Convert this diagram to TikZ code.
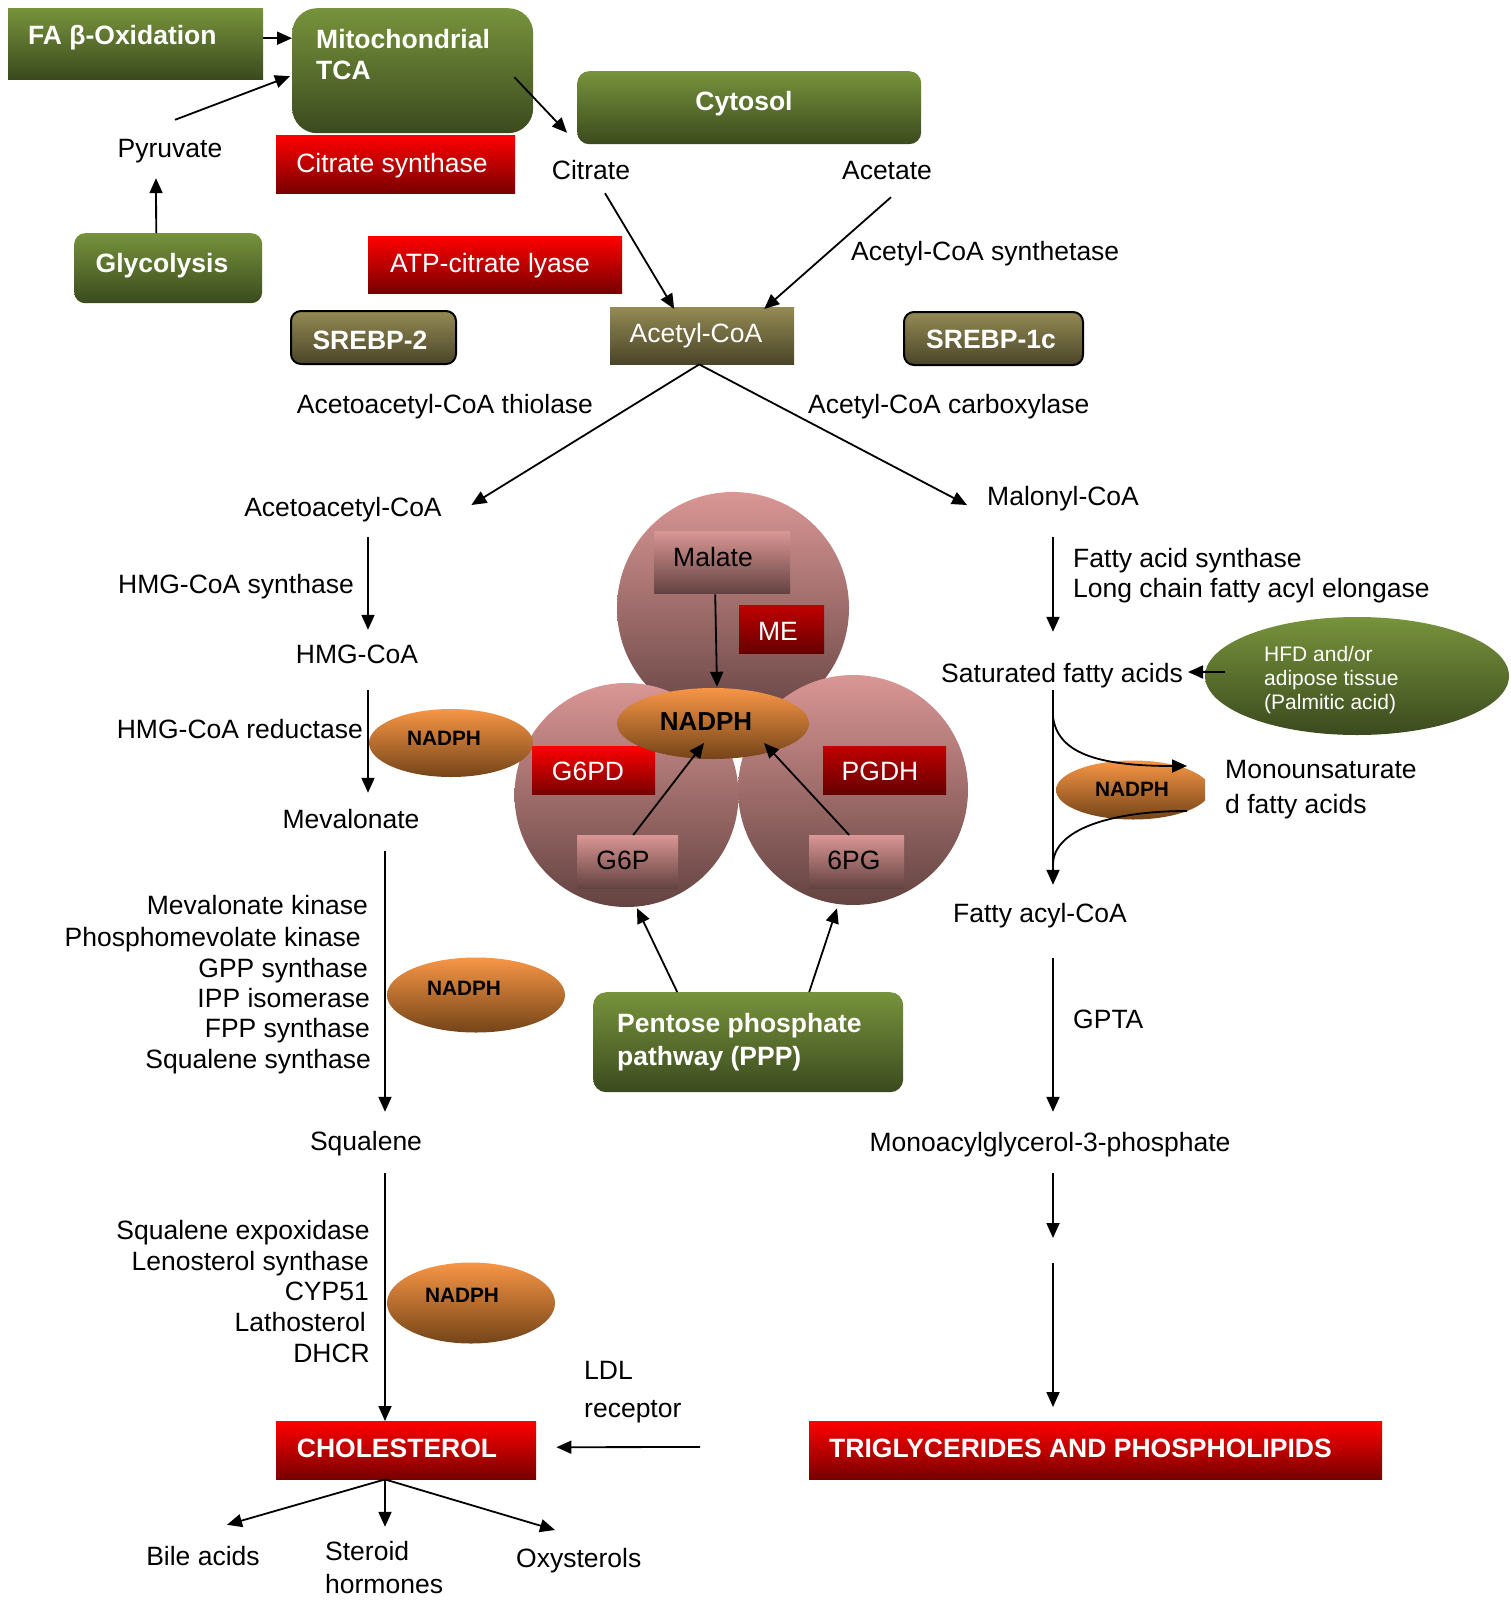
\documentclass[tikz,border=0pt]{standalone}
\usepackage{fontspec}
\setmainfont{Liberation Sans}
\usetikzlibrary{shapes.geometric,arrows.meta,calc}
\definecolor{gtop}{HTML}{77933C}
\definecolor{gbot}{HTML}{3B4A1E}
\definecolor{otop}{HTML}{948A54}
\definecolor{obot}{HTML}{4A4529}
\definecolor{rtop}{HTML}{FF0000}
\definecolor{rbot}{HTML}{780000}
\definecolor{dtop}{HTML}{C00000}
\definecolor{dbot}{HTML}{660000}
\definecolor{ptop}{HTML}{D99694}
\definecolor{pbot}{HTML}{634341}
\definecolor{ntop}{HTML}{F79646}
\definecolor{nbot}{HTML}{744418}
\tikzset{
 txt/.style={inner sep=0pt, text height=21pt, text depth=0pt, font=\fontsize{26.5}{31}\selectfont},
 wtxt/.style={txt, text=white},
 btxt/.style={txt, text=white, font=\fontsize{26.5}{31}\selectfont\bfseries},
 ntxt/.style={inner sep=0pt, font=\fontsize{20.8}{24}\selectfont\bfseries},
 stxt/.style={inner sep=0pt, text height=16pt, text depth=0pt, text=white, font=\fontsize{21}{24}\selectfont},
 box/.style={rectangle, draw=none, inner sep=0pt, anchor=north west},
 greenbox/.style={box, top color=gtop, bottom color=gbot},
 olivebox/.style={box, top color=otop, bottom color=obot},
 redbox/.style={box, top color=rtop, bottom color=rbot},
 darkbox/.style={box, top color=dtop, bottom color=dbot},
 pinkbox/.style={box, top color=ptop, bottom color=pbot},
 srebpbox/.style={olivebox, draw=black, line width=2pt, rounded corners=10pt},
 ball/.style={circle, inner sep=0pt, draw=none, top color=ptop, bottom color=pbot},
 nadph/.style={ellipse, inner sep=0pt, draw=none, top color=ntop, bottom color=nbot},
 arr/.style={line width=1.8pt, -{Triangle[length=15pt,width=13pt]}},
 ln/.style={line width=1.8pt},
}
\begin{document}
\begin{tikzpicture}[x=1pt,y=-1pt]
\fill[white] (0,0) rectangle (1510,1600);
\useasboundingbox (0,0) rectangle (1510,1600);
\coordinate (xL1) at (368,0);
\coordinate (xL2) at (385,0);
\coordinate (xR) at (1053,0);

% ---------- boxes ----------
\node[greenbox, minimum width=255pt, minimum height=71pt] (fa) at (8,8) {};
\node[greenbox, rounded corners=25pt, minimum width=241pt, minimum height=125pt] (mito) at (292,8) {};
\node[greenbox, rounded corners=11pt, minimum width=188pt, minimum height=70pt] (glyco) at (74,233) {};
\node[redbox, minimum width=239pt, minimum height=58pt] (cs) at (276,135) {};
\node[greenbox, rounded corners=12pt, minimum width=344pt, minimum height=73pt] (cyto) at (577,71) {};
\node[redbox, minimum width=254pt, minimum height=57pt] (acl) at (368,236) {};
\node[olivebox, minimum width=184pt, minimum height=57pt] (acetyl) at (610,307) {};
\node[srebpbox, minimum width=165pt, minimum height=53pt] (sr2) at (290,310) {};
\node[srebpbox, minimum width=179pt, minimum height=53pt] (sr1) at (903,311) {};
\node[redbox, minimum width=260pt, minimum height=58pt] (chol) at (276,1421) {};
\node[redbox, minimum width=573pt, minimum height=58pt] (trig) at (809,1421) {};
\node[greenbox, rounded corners=13pt, minimum width=310pt, minimum height=100pt] (ppp) at (593,992) {};

% ---------- circles ----------
\node[ball, minimum size=232pt] (ctop) at (733,608) {};
\node[ball, minimum size=224pt] (cleft) at (626.5,795) {};
\node[ball, minimum size=230pt] (cright) at (853,790) {};
\node[pinkbox, minimum width=136pt, minimum height=62pt] (malate) at (654,531) {};
\node[darkbox, minimum width=85pt, minimum height=48pt] (me) at (739,605) {};
\node[redbox, minimum width=123pt, minimum height=48pt] (g6pd) at (532,746) {};
\node[darkbox, minimum width=123pt, minimum height=48pt] (pgdh) at (823,746) {};
\node[pinkbox, minimum width=101pt, minimum height=53pt] (g6p) at (577,835) {};
\node[pinkbox, minimum width=95pt, minimum height=53pt] (pgsix) at (809,835) {};
\node[nadph, minimum width=192pt, minimum height=71pt] (nbig) at (713,723.5) {};

% ---------- NADPH and HFD ellipses ----------
\node[nadph, minimum width=164pt, minimum height=68pt] (n1) at (451,743) {};
\node[nadph, minimum width=178pt, minimum height=75pt] (n2) at (476,995) {};
\node[nadph, minimum width=168pt, minimum height=81pt] (n3) at (471,1303) {};
\begin{scope}
\clip (1000,700) rectangle (1205,900);
\node[nadph, minimum width=154pt, minimum height=59pt] (n4) at (1133,790) {};
\end{scope}
\node[ellipse, inner sep=0pt, draw=none, top color=gtop, bottom color=gbot, minimum width=304pt, minimum height=118pt] (hfd) at (1357,676) {};

% ---------- texts ----------
\node[btxt, anchor=west] (fat) at (28,34) {FA β-Oxidation};
\node[btxt, anchor=west] (mitot1) at (316,38) {Mitochondrial};
\node[btxt, anchor=west] (mitot2) at (316,69) {TCA};
\node[txt] (pyr) at (170,147) {Pyruvate};
\node[btxt] (glycot) at (162,262) {Glycolysis};
\node[wtxt] (cst) at (392,162) {Citrate synthase};
\node[btxt] (cytot) at (744,100) {Cytosol};
\node[txt] (citrate) at (591,169) {Citrate};
\node[txt] (acetate) at (887,169) {Acetate};
\node[wtxt] (aclt) at (490,262) {ATP-citrate lyase};
\node[txt, anchor=west] (acs) at (851,250) {Acetyl-CoA synthetase};
\node[wtxt] (acetylt) at (696,332) {Acetyl-CoA};
\node[btxt] (sr2t) at (370,339) {SREBP-2};
\node[btxt] (sr1t) at (991,338) {SREBP-1c};
\node[txt] (thiol) at (445,403) {Acetoacetyl-CoA thiolase};
\node[txt, anchor=west] (acc) at (808,403) {Acetyl-CoA carboxylase};
\node[txt] (acac) at (343,506) {Acetoacetyl-CoA};
\node[txt, anchor=west] (malonyl) at (987,495) {Malonyl-CoA};
\node[txt, anchor=east] (hmgs) at (354,583) {HMG-CoA synthase};
\node[txt] (hmg) at (357,653) {HMG-CoA};
\node[txt, anchor=east] (hmgr) at (363,728) {HMG-CoA reductase};
\node[txt] (meval) at (351,818) {Mevalonate};
\node[txt, anchor=east] (la1) at (368,904) {Mevalonate kinase};
\node[txt, anchor=east] (la2) at (361,936) {Phosphomevolate kinase};
\node[txt, anchor=east] (la3) at (368,967) {GPP synthase};
\node[txt, anchor=east] (la4) at (370,997) {IPP isomerase};
\node[txt, anchor=east] (la5) at (370,1027) {FPP synthase};
\node[txt, anchor=east] (la6) at (371,1058) {Squalene synthase};
\node[txt] (squal) at (366,1140) {Squalene};
\node[txt, anchor=east] (lb1) at (370,1229) {Squalene expoxidase};
\node[txt, anchor=east] (lb2) at (369,1260) {Lenosterol synthase};
\node[txt, anchor=east] (lb3) at (369,1290) {CYP51};
\node[txt, anchor=east] (lb4) at (366,1321) {Lathosterol};
\node[txt, anchor=east] (lb5) at (370,1352) {DHCR};
\node[btxt] (cholt) at (397,1447) {CHOLESTEROL};
\node[txt] (bile) at (203,1555) {Bile acids};
\node[txt, anchor=west] (ster1) at (325,1550) {Steroid};
\node[txt, anchor=west] (ster2) at (325,1583) {hormones};
\node[txt, anchor=west] (oxy) at (516,1557) {Oxysterols};
\node[txt, anchor=west] (ldl1) at (584,1369) {LDL};
\node[txt, anchor=west] (ldl2) at (584,1407) {receptor};
\node[btxt, anchor=west] (trigt) at (829,1447) {TRIGLYCERIDES AND PHOSPHOLIPIDS};
\node[txt, anchor=west] (fas) at (1073,557) {Fatty acid synthase};
\node[txt, anchor=west] (lcf) at (1073,587) {Long chain fatty acyl elongase};
\node[txt, anchor=east] (sat) at (1183,672) {Saturated fatty acids};
\node[stxt, anchor=west] (hfd1) at (1264,653) {HFD and/or};
\node[stxt, anchor=west] (hfd2) at (1264,677) {adipose tissue};
\node[stxt, anchor=west] (hfd3) at (1264,701) {(Palmitic acid)};
\node[txt, anchor=west] (mono1) at (1225,768) {Monounsaturate};
\node[txt, anchor=west] (mono2) at (1225,803) {d fatty acids};
\node[txt] (facoa) at (1040,912) {Fatty acyl-CoA};
\node[txt, anchor=west] (gpta) at (1073,1018) {GPTA};
\node[txt] (mag) at (1050,1141) {Monoacylglycerol-3-phosphate};
\node[txt] (malatet) at (713,556) {Malate};
\node[wtxt] (met) at (778,630) {ME};
\node[wtxt] (g6pdt) at (588,770) {G6PD};
\node[wtxt] (pgdht) at (880,770) {PGDH};
\node[txt] (g6pt) at (623,859) {G6P};
\node[txt] (pgsixt) at (854,859) {6PG};
\node[inner sep=0pt, font=\fontsize{26}{30}\selectfont\bfseries] (nbigt) at (706,722) {NADPH};
\node[ntxt] (n1t) at (444,738) {NADPH};
\node[ntxt] (n2t) at (464,988) {NADPH};
\node[ntxt] (n3t) at (462,1295) {NADPH};
\node[ntxt] (n4t) at (1132,789) {NADPH};
\node[btxt, anchor=west] (ppp1) at (617,1022) {Pentose phosphate};
\node[btxt, anchor=west] (ppp2) at (617,1055) {pathway (PPP)};

% ---------- free ends ----------
\coordinate (ldlsrc) at (700,1447);
\coordinate (rend) at (1053,1238);
\coordinate (rstart) at (1053,1263);

% ---------- connectors ----------
\draw[arr] ([yshift=5.5pt]fa.east) -- ([yshift=5.5pt]fa.east -| mito.west);
\draw[arr] ($(pyr.north)+(5,-16.5)$) -- ($(mito.west)+(-2,5.5)$);
\draw[arr] ($(glyco.north)+(-12,0)$) -- ($(pyr.south)+(-14,20.5)$);
\draw[arr] ($(mito.east)+(-19,6.5)$) -- ($(citrate.north)+(-24,-25.5)$);
\draw[arr] ($(citrate.south)+(14,13.5)$) -- ($(acetyl.north)+(-28,2)$);
\draw[arr] ($(acetate.south)+(4,17.5)$) -- ($(acetyl.north)+(62,2)$);
\draw[arr] ($(acetyl.south)+(-3,0)$) -- ($(acac.east)+(29.5,-1)$);
\draw[arr] ($(acetyl.south)+(-3,0)$) -- ($(malonyl.west)+(-20,10)$);

\draw[arr] ($(xL1|-acac.south)+(0,20.5)$) -- ($(xL1|-hmg.north)+(0,-12.5)$);
\draw[arr] ($(xL1|-hmg.south)+(0,26.5)$) -- ($(xL1|-meval.north)+(0,-14.5)$);
\draw[arr] ($(xL2|-meval.south)+(0,22.5)$) -- ($(xL2|-squal.north)+(0,-17.5)$);
\draw[arr] ($(xL2|-squal.south)+(0,22.5)$) -- (xL2|-chol.north);
\draw[arr] (xL2|-chol.south) -- ($(bile.north)+(24,-19.5)$);
\draw[arr] (xL2|-chol.south) -- ($(xL2|-ster1.north)+(0,-12.5)$);
\draw[arr] (xL2|-chol.south) -- ($(oxy.west)+(39,-27)$);
\draw[arr] (ldlsrc) -- ($(chol.east)+(20,-3)$);

\draw[arr] ($(xR|-malonyl.south)+(0,31.5)$) -- ($(xR|-sat.north)+(0,-29.5)$);
\draw[arr] ($(hfd.west)+(20,-4)$) -- ($(sat.east)+(5,0)$);
\draw[arr] ($(xR|-sat.south)+(0,7.5)$) -- ($(xR|-facoa.north)+(0,-16.5)$);
\draw[arr] ($(xR|-sat.south)+(0,34.5)$) .. controls +(5,35) and +(-92,0) .. ($(mono1.west)+(-38,-2)$);
\draw[ln] ($(mono2.west)+(-38,8)$) .. controls +(-77,0) and +(0,-35) .. ($(xR|-facoa.north)+(0,-36.5)$);
\draw[arr] ($(xR|-facoa.south)+(0,35.5)$) -- ($(xR|-mag.north)+(0,-18.5)$);
\draw[arr] ($(xR|-mag.south)+(0,21.5)$) -- (rend);
\draw[arr] (rstart) -- ($(xR|-trig.north)+(0,-14)$);

\draw[arr] ($(malate.south)+(-7,1)$) -- ($(nbig.north)+(4,-1)$);
\draw[arr] ($(g6p.north)+(5.5,0)$) -- ($(nbig.center)+(-9,19.5)$);
\draw[arr] ($(pgsix.north)+(-7.5,0)$) -- ($(nbig.center)+(51,19.5)$);
\draw[arr] ($(ppp.north)+(-71,0)$) -- ($(cleft.south)+(10.5,1)$);
\draw[arr] ($(ppp.north)+(61,0)$) -- ($(cright.south)+(-16,3)$);
\end{tikzpicture}
\end{document}
